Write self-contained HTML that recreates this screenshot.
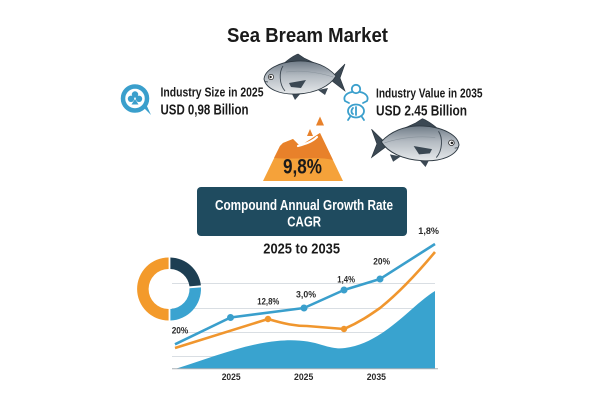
<!DOCTYPE html>
<html>
<head>
<meta charset="utf-8">
<style>
  html,body{margin:0;padding:0;background:#ffffff;}
  body{width:600px;height:400px;overflow:hidden;}
  svg{display:block;}
  text{font-family:"Liberation Sans",Arial,sans-serif;font-weight:bold;}
</style>
</head>
<body>
<svg width="600" height="400" viewBox="0 0 600 400" xmlns="http://www.w3.org/2000/svg">
  <defs>
    <linearGradient id="fishBody" x1="0" y1="0" x2="0" y2="1">
      <stop offset="0" stop-color="#6f7b87"/>
      <stop offset="0.45" stop-color="#b4bbc2"/>
      <stop offset="1" stop-color="#e6e9eb"/>
    </linearGradient>
    <g id="fish">
      <path d="M332,77 L345,64 L340,78 L345,91 L332,81 Z" fill="#3b4853" stroke="#2a343d" stroke-width="0.6"/>
      <path d="M283,64 C290,58 295,55 298,54 L304,58 L323,67 Z" fill="#3b4853" stroke="#2a343d" stroke-width="0.6"/>
      <path d="M291,92 L295,100 L301,93 Z" fill="#3b4853"/>
      <path d="M318,90 L328,88 L325,95 Z" fill="#3b4853"/>
      <path d="M264,79 C265,70 278,62 297,61 C315,60 328,67 336,76 C330,86 316,93 298,94 C280,95 266,89 264,79 Z" fill="url(#fishBody)" stroke="#2e3942" stroke-width="0.9"/>
      <path d="M286,72 C300,70 318,72 333,77" fill="none" stroke="#8a949d" stroke-width="0.6"/>
      <path d="M283,66 C279,72 279,84 285,91" fill="none" stroke="#3b4650" stroke-width="0.9"/>
      <path d="M289,83 L306,80 L301,88 L291,87 Z" fill="#3b4853"/>
      <circle cx="271" cy="77" r="2.6" fill="#ffffff" stroke="#222" stroke-width="0.7"/>
      <circle cx="270.6" cy="77" r="1.2" fill="#222"/>
      <path d="M264.5,81.5 L268,82" stroke="#2e3942" stroke-width="0.7"/>
    </g>
  </defs>

  <text x="227" y="42" font-size="20" fill="#1a1a1a" textLength="161" lengthAdjust="spacingAndGlyphs">Sea Bream Market</text>

  <g fill="none" stroke="#3a9fcc">
    <circle cx="135" cy="98.5" r="12" stroke-width="4.5"/>
  </g>
  <path d="M143,107 L151,115 L146,104 Z" fill="#3a9fcc"/>
  <g fill="#3a9fcc">
    <circle cx="135" cy="94.5" r="3.2"/>
    <circle cx="131" cy="98.8" r="3.2"/>
    <circle cx="139" cy="98.8" r="3.2"/>
    <path d="M135,99 L131.5,104.5 L138.5,104.5 Z"/>
  </g>

  <text x="160.5" y="96.7" font-size="13" fill="#1a1a1a" textLength="103" lengthAdjust="spacingAndGlyphs">Industry Size in 2025</text>
  <text x="160.5" y="114.5" font-size="15" fill="#1a1a1a" textLength="88" lengthAdjust="spacingAndGlyphs">USD 0,98 Billion</text>

  <use href="#fish"/>

  <g fill="none" stroke="#3a9fcc" stroke-width="1.8" stroke-linecap="round">
    <circle cx="356" cy="89" r="4.2"/>
    <path d="M352,92 C346,93 343,97 345,101 L349,103"/>
    <path d="M360,92 C366,93 369,97 367,101 L363,103"/>
    <ellipse cx="356" cy="111" rx="8" ry="6.5"/>
    <path d="M353,108 C351,110 351,113 353,114"/>
    <path d="M356,107 L356,115"/>
    <path d="M350,117 L348,120 M362,117 L364,120"/>
  </g>

  <text x="376" y="97.3" font-size="13" fill="#1a1a1a" textLength="106.5" lengthAdjust="spacingAndGlyphs">Industry Value in 2035</text>
  <text x="376" y="115.7" font-size="15" fill="#1a1a1a" textLength="91" lengthAdjust="spacingAndGlyphs">USD 2.45 Billion</text>

  <use href="#fish" transform="translate(459,146) scale(-1.08,1.05) translate(-264,-80)"/>

  <path d="M263,181 L280,146 L283,143 L293,139 L300,146 L320,133 L343,181 Z" fill="#f5a23a"/>
  <path d="M274,158 L280,146 L283,143 L293,139 L300,146 L320,133 L333,160 C318,156 298,160 274,158 Z" fill="#e8812a"/>
  <path d="M298,146 C305,144 312,142 317,137" fill="none" stroke="#ffffff" stroke-width="2.2" stroke-linecap="round"/>
  <path d="M320,116.5 L316,125.5 L324,125.5 Z" fill="#e8812a"/>
  <path d="M310,129 L307,136 L313,136 Z" fill="#e8812a"/>
  <text x="283" y="173.3" font-size="21" fill="#1a1a1a" textLength="39" lengthAdjust="spacingAndGlyphs">9,8%</text>

  <rect x="197" y="187" width="210" height="49" rx="4" ry="4" fill="#1f4b5f"/>
  <text x="215" y="210" font-size="14.5" fill="#ffffff" textLength="178" lengthAdjust="spacingAndGlyphs">Compound Annual Growth Rate</text>
  <text x="287.3" y="226.7" font-size="14.5" fill="#ffffff" textLength="33.7" lengthAdjust="spacingAndGlyphs">CAGR</text>

  <text x="263.3" y="253.3" font-size="14.5" fill="#1a1a1a" textLength="76.7" lengthAdjust="spacingAndGlyphs">2025 to 2035</text>

  <g stroke="#d9dee3" stroke-width="1">
    <line x1="172" y1="283.5" x2="435" y2="283.5"/>
    <line x1="172" y1="308.5" x2="435" y2="308.5"/>
    <line x1="172" y1="332.5" x2="435" y2="332.5"/>
    <line x1="172" y1="356.5" x2="435" y2="356.5"/>
  </g>

  <path d="M175,369 C210,358 245,344 277,341 C295,339 310,341 322,345 C332,348 338,349 345,348 C360,346 372,340 385,331 C405,317 420,300 435,291 L435,369 Z" fill="#39a3cf"/>
  <line x1="172" y1="368.8" x2="438" y2="368.8" stroke="#a9b0b6" stroke-width="1"/>

  <path d="M175,348 L268,319 C285,324 295,326 307,326 L344,329 C360,322 370,315 380,308 C400,292 420,270 435,252" fill="none" stroke="#f0962e" stroke-width="2.6" stroke-linejoin="round"/>
  <circle cx="268" cy="319" r="3.2" fill="#f0962e"/>
  <circle cx="344" cy="329" r="3.2" fill="#f0962e"/>

  <polyline points="175,344.3 230.5,317.5 304,308 344,290 380,279 435,244" fill="none" stroke="#3a9fcc" stroke-width="2.6" stroke-linejoin="round"/>
  <g fill="#3a9fcc">
    <circle cx="230.5" cy="317.5" r="3.5"/>
    <circle cx="304" cy="308" r="3.5"/>
    <circle cx="344" cy="290" r="3.5"/>
    <circle cx="380" cy="279" r="3.5"/>
  </g>

  <g transform="translate(169.5,289)">
    <path d="M-0.9,31.5 A31.5,31.5 0 0 1 -0.9,-31.5 L-0.9,-20 A20,20 0 0 0 -0.9,20 Z" fill="#f39a2b"/>
    <path d="M0.9,-31.5 A31.5,31.5 0 0 1 31.4,-3.6 L20,-2.6 A20,20 0 0 0 0.9,-20 Z" fill="#1d3e52"/>
    <path d="M31.45,-1.6 A31.5,31.5 0 0 1 0.9,31.5 L0.9,20 A20,20 0 0 0 20,-0.8 Z" fill="#3aa3d0"/>
  </g>

  <g fill="#2a2a2a" font-size="9.5">
    <text x="171.7" y="333.3" textLength="16.6" lengthAdjust="spacingAndGlyphs">20%</text>
    <text x="257.3" y="304.7" textLength="22" lengthAdjust="spacingAndGlyphs">12,8%</text>
    <text x="296" y="297.3" textLength="20" lengthAdjust="spacingAndGlyphs">3,0%</text>
    <text x="337.3" y="282.3" textLength="17.7" lengthAdjust="spacingAndGlyphs">1,4%</text>
    <text x="373.3" y="264.3" textLength="16.7" lengthAdjust="spacingAndGlyphs">20%</text>
    <text x="418.3" y="234" textLength="20.7" lengthAdjust="spacingAndGlyphs">1,8%</text>
  </g>
  <g fill="#2a2a2a" font-size="9.5">
    <text x="221.7" y="380" textLength="19" lengthAdjust="spacingAndGlyphs">2025</text>
    <text x="294" y="380" textLength="19.3" lengthAdjust="spacingAndGlyphs">2025</text>
    <text x="366.7" y="380" textLength="19.3" lengthAdjust="spacingAndGlyphs">2035</text>
  </g>
</svg>
</body>
</html>
